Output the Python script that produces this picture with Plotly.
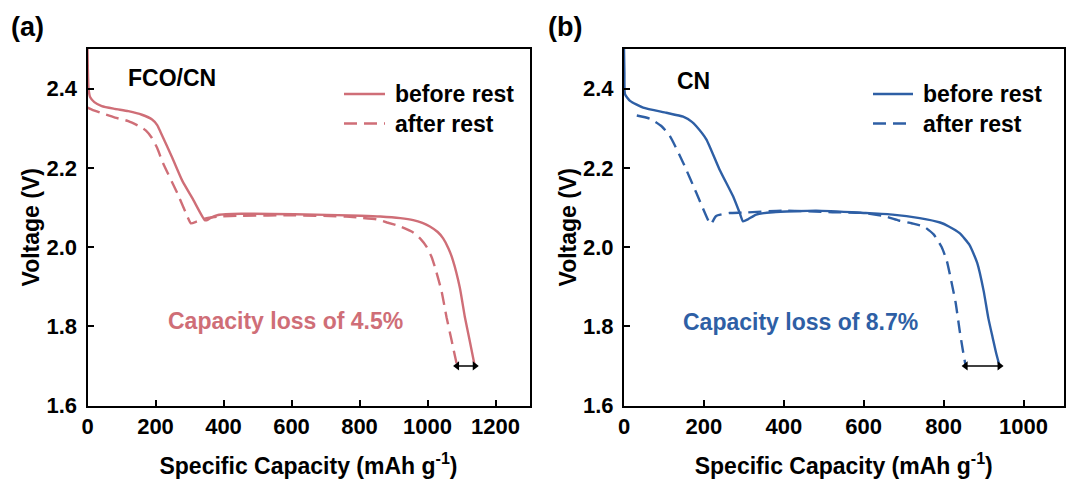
import plotly.graph_objects as go

# ---------------- data ----------------
a_before_x = [0, 1, 3, 8, 20, 42, 80, 120, 160, 190, 205, 215, 249, 279, 310, 345, 352, 365, 384, 452, 608, 803, 861, 920, 958, 985, 1007, 1030, 1046, 1062, 1075, 1095, 1110, 1124, 1139]
a_before_y = [2.50, 2.45, 2.40, 2.378, 2.366, 2.356, 2.349, 2.343, 2.334, 2.322, 2.308, 2.29, 2.226, 2.167, 2.121, 2.068, 2.068, 2.075, 2.081, 2.084, 2.083, 2.079, 2.077, 2.073, 2.068, 2.061, 2.052, 2.038, 2.022, 1.996, 1.966, 1.898, 1.823, 1.764, 1.70]

a_after_x = [0, 13, 45, 81, 120, 150, 172, 189, 205, 222, 262, 290, 304, 320, 345, 384, 452, 608, 760, 803, 850, 881, 920, 958, 980, 998, 1012, 1022, 1041, 1056, 1071, 1087]
a_after_y = [2.352, 2.347, 2.337, 2.327, 2.318, 2.306, 2.294, 2.276, 2.25, 2.212, 2.14, 2.085, 2.06, 2.064, 2.072, 2.077, 2.079, 2.08, 2.077, 2.074, 2.07, 2.062, 2.052, 2.037, 2.02, 2.0, 1.975, 1.949, 1.89, 1.823, 1.764, 1.70]

b_before_x = [0, 1, 2.5, 15, 48, 106, 148, 170, 181, 206, 239, 273, 290, 298, 310, 331, 373, 481, 605, 672, 740, 791, 813, 840, 865, 884, 900, 912, 923, 932, 940]
b_before_y = [2.50, 2.44, 2.386, 2.369, 2.352, 2.339, 2.329, 2.316, 2.305, 2.272, 2.196, 2.128, 2.085, 2.065, 2.07, 2.082, 2.088, 2.092, 2.086, 2.082, 2.073, 2.062, 2.052, 2.035, 2.005, 1.96, 1.89, 1.82, 1.77, 1.73, 1.70]

b_after_x = [32, 65, 94, 115, 148, 181, 214, 218, 230, 264, 300, 397, 522, 600, 655, 688, 720, 750, 775, 795, 808, 820, 830, 840, 848, 855]
b_after_y = [2.332, 2.324, 2.305, 2.28, 2.213, 2.137, 2.061, 2.058, 2.078, 2.086, 2.087, 2.092, 2.088, 2.086, 2.077, 2.067, 2.06, 2.052, 2.032, 2.0, 1.965, 1.91, 1.86, 1.79, 1.74, 1.70]

arrow_a_x = [1087, 1139]   # capacity after / before rest at the cut-off voltage
arrow_b_x = [855, 940]
arrow_y = [1.70, 1.70]

x_ticks_a = [0, 200, 400, 600, 800, 1000, 1200]
x_ticks_b = [0, 200, 400, 600, 800, 1000]
y_ticks = [1.6, 1.8, 2.0, 2.2, 2.4]

legend_labels = ["before rest", "after rest"]

PINK = "#CF6E77"
BLUE = "#2E5FA5"
FONT = "Liberation Sans, Arial, sans-serif"
DASH = "13px,7px"

W, H = 1067, 481
def fx(p):
    return p / W
def fy(p):
    return 1 - p / H

fig = go.Figure()
for xs, ys, col, dash, xa, ya, nm in [
    (a_before_x, a_before_y, PINK, "solid", "x", "y", legend_labels[0]),
    (a_after_x, a_after_y, PINK, DASH, "x", "y", legend_labels[1]),
    (b_before_x, b_before_y, BLUE, "solid", "x2", "y2", legend_labels[0]),
    (b_after_x, b_after_y, BLUE, DASH, "x2", "y2", legend_labels[1]),
]:
    fig.add_trace(go.Scatter(x=xs, y=ys, mode="lines", name=nm, showlegend=False,
                             line=dict(color=col, width=2.4, dash=dash, shape="spline", smoothing=0.5),
                             xaxis=xa, yaxis=ya))

# double-headed arrows showing the capacity loss
for xs, xa, ya in [(arrow_a_x, "x", "y"), (arrow_b_x, "x2", "y2")]:
    fig.add_trace(go.Scatter(x=xs, y=arrow_y, mode="lines+markers", showlegend=False,
                             line=dict(color="black", width=1.5),
                             marker=dict(symbol=["triangle-left", "triangle-right"], size=8, color="black"),
                             xaxis=xa, yaxis=ya, hoverinfo="skip"))

bold = dict(family=FONT, size=23, color="black", weight="bold")
axis_common = dict(showline=True, linecolor="black", linewidth=2, mirror=True,
                   ticks="inside", ticklen=6, tickwidth=2, tickcolor="black",
                   showgrid=False, zeroline=False, automargin=False,
                   tickfont=dict(family=FONT, size=22, color="black", weight="bold"))
xtitle = dict(text="Specific Capacity (mAh g<sup>-1</sup>)", font=bold, standoff=20)
ytitle = dict(text="Voltage (V)", font=bold, standoff=0)

ydom = [fy(405.5), fy(49)]
fig.update_layout(
    width=W, height=H,
    margin=dict(l=0, r=0, t=0, b=0),
    paper_bgcolor="white", plot_bgcolor="white",
    font=dict(family=FONT, color="black"),
    showlegend=False,
    xaxis=dict(domain=[fx(87.5), fx(529.5)], range=[0, 1300], tickvals=x_ticks_a, anchor="y",
               title=xtitle, **axis_common),
    yaxis=dict(domain=ydom, range=[1.6, 2.5], tickvals=y_ticks, tickformat=".1f", anchor="x",
               title=ytitle, ticklabelstandoff=4, **axis_common),
    xaxis2=dict(domain=[fx(624), fx(1063.5)], range=[0, 1100], tickvals=x_ticks_b, anchor="y2",
                title=xtitle, **axis_common),
    yaxis2=dict(domain=ydom, range=[1.6, 2.5], tickvals=y_ticks, tickformat=".1f", anchor="x2",
                title=ytitle, ticklabelstandoff=4, **axis_common),
)

ann = []
shapes = []
# panel labels
for lbl, xp in [("(a)", 9), ("(b)", 546)]:
    ann.append(dict(text=lbl, x=fx(xp), y=fy(27), xref="paper", yref="paper", xanchor="left", yanchor="middle",
                    showarrow=False, font=dict(family=FONT, size=27, color="black", weight="bold")))
# sample labels
ann.append(dict(text="FCO/CN", x=fx(126), y=fy(78), xref="paper", yref="paper", xanchor="left", yanchor="middle",
                showarrow=False, font=bold))
ann.append(dict(text="CN", x=fx(675), y=fy(81), xref="paper", yref="paper", xanchor="left", yanchor="middle",
                showarrow=False, font=bold))
# capacity loss text
ann.append(dict(text="Capacity loss of 4.5%", x=fx(166), y=fy(321), xref="paper", yref="paper", xanchor="left",
                yanchor="middle", showarrow=False, font=dict(family=FONT, size=23, color=PINK, weight="bold")))
ann.append(dict(text="Capacity loss of 8.7%", x=fx(681), y=fy(322), xref="paper", yref="paper", xanchor="left",
                yanchor="middle", showarrow=False, font=dict(family=FONT, size=23, color=BLUE, weight="bold")))
# legends (line sample + label)
for (l0, l1, t0), col in [((344, 385, 393), PINK), ((873, 913, 921), BLUE)]:
    for lbl, yy, dash in [(legend_labels[0], 94, "solid"), (legend_labels[1], 123.5, DASH)]:
        shapes.append(dict(type="line", xref="paper", yref="paper", x0=fx(l0), x1=fx(l1), y0=fy(yy), y1=fy(yy),
                           line=dict(color=col, width=2.4, dash=dash)))
        ann.append(dict(text=lbl, x=fx(t0), y=fy(yy), xref="paper", yref="paper", xanchor="left",
                        yanchor="middle", showarrow=False, font=bold))
fig.update_layout(annotations=ann, shapes=shapes)

fig.write_html("out.html")
